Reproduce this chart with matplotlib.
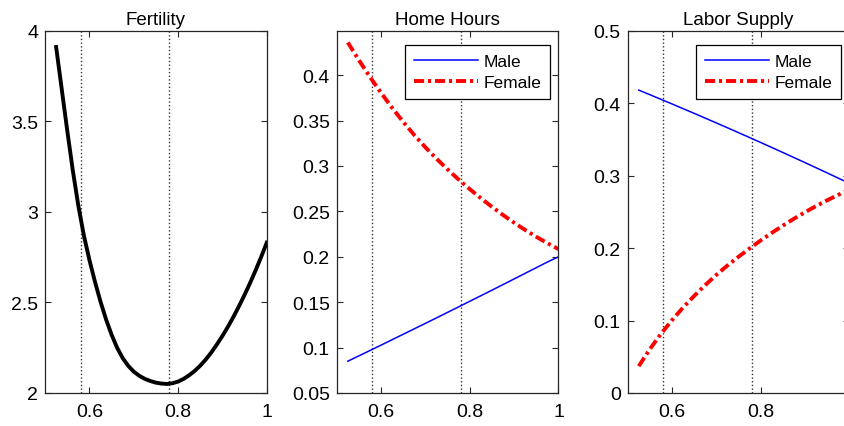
import matplotlib

matplotlib.use("Agg")
import matplotlib.pyplot as plt
from matplotlib.ticker import FuncFormatter

plt.rcParams["font.family"] = ["Liberation Sans", "DejaVu Sans"]
plt.rcParams["font.size"] = 13

# wage gap grid for the fertility panel (finer, the curve bends sharply)
fert_ratio = [
    0.525, 0.5375, 0.55, 0.5625, 0.575, 0.5875, 0.6, 0.6125, 0.625, 0.6375,
    0.65, 0.6625, 0.675, 0.6875, 0.7, 0.7125, 0.725, 0.7375, 0.75, 0.7625,
    0.775, 0.7875, 0.8, 0.8125, 0.825, 0.8375, 0.85, 0.8625, 0.875, 0.8875,
    0.9, 0.9125, 0.925, 0.9375, 0.95, 0.9625, 0.975, 0.9875, 1.0,
]
fertility = [
    3.910, 3.680, 3.450, 3.230, 3.035, 2.870, 2.735, 2.615, 2.505, 2.407,
    2.322, 2.250, 2.193, 2.150, 2.118, 2.095, 2.078, 2.066, 2.057, 2.052,
    2.050, 2.054, 2.063, 2.078, 2.098, 2.122, 2.151, 2.185, 2.224, 2.268,
    2.315, 2.366, 2.421, 2.480, 2.542, 2.608, 2.678, 2.752, 2.830,
]

# wage gap grid for the hours panels
wage_ratio = [
    0.525, 0.55, 0.575, 0.6, 0.625, 0.65, 0.675, 0.7, 0.725, 0.75,
    0.775, 0.8, 0.825, 0.85, 0.875, 0.9, 0.925, 0.95, 0.975, 1.0,
]

home_male = [
    0.0850, 0.0909, 0.0968, 0.1027, 0.1087, 0.1147, 0.1207, 0.1267, 0.1327, 0.1388,
    0.1449, 0.1510, 0.1571, 0.1632, 0.1694, 0.1756, 0.1818, 0.1880, 0.1942, 0.2000,
]
home_female = [
    0.4360, 0.4165, 0.3980, 0.3805, 0.3640, 0.3485, 0.3340, 0.3205, 0.3080, 0.2962,
    0.2850, 0.2745, 0.2645, 0.2550, 0.2460, 0.2375, 0.2295, 0.2220, 0.2150, 0.2085,
]

labor_male = [
    0.4180, 0.4117, 0.4053, 0.3989, 0.3924, 0.3859, 0.3793, 0.3727, 0.3660, 0.3593,
    0.3525, 0.3457, 0.3388, 0.3319, 0.3249, 0.3179, 0.3108, 0.3037, 0.2965, 0.2893,
]
labor_female = [
    0.0370, 0.0605, 0.0815, 0.1005, 0.1180, 0.1340, 0.1490, 0.1630, 0.1760, 0.1880,
    0.1995, 0.2105, 0.2210, 0.2310, 0.2405, 0.2495, 0.2580, 0.2660, 0.2735, 0.2805,
]

# reference wage ratios marked in every panel
markers = [0.58, 0.78]

x_ticks = [0.6, 0.8, 1.0]
fert_ticks = [2, 2.5, 3, 3.5, 4]
home_ticks = [0.05, 0.1, 0.15, 0.2, 0.25, 0.3, 0.35, 0.4]
labor_ticks = [0, 0.1, 0.2, 0.3, 0.4, 0.5]

titles = ["Fertility", "Home Hours", "Labor Supply"]
series_names = ["Male", "Female"]

SPINE = "#262626"
FEMALE_DASH = (2.6, 1.0, 0.8, 1.0)


def style_axes(ax, title, yticks, ylim, xticks=x_ticks):
    ax.set_xlim(0.5, 1.0)
    ax.set_ylim(*ylim)
    ax.set_xticks(xticks)
    ax.set_yticks(yticks)
    fmt = FuncFormatter(lambda v, _: f"{v:g}")
    ax.xaxis.set_major_formatter(fmt)
    ax.yaxis.set_major_formatter(fmt)
    ax.tick_params(direction="in", length=4, width=0.8, color=SPINE,
                   top=True, right=True, labelsize=14)
    ax.tick_params(axis="y", pad=5)
    ax.tick_params(axis="x", pad=7)
    for sp in ax.spines.values():
        sp.set_color(SPINE)
        sp.set_linewidth(0.9)
    ax.set_title(title, fontsize=13.5, pad=5)
    for m in markers:
        ax.axvline(m, color="#333333", linestyle=":", linewidth=1.0, zorder=1)


def add_legend(ax):
    leg = ax.legend(
        series_names,
        loc="upper right",
        bbox_to_anchor=(0.962, 0.961),
        borderaxespad=0,
        fancybox=False,
        framealpha=1,
        edgecolor="black",
        fontsize=12.5,
        handlelength=3.7,
        handletextpad=0.3,
        labelspacing=0.38,
        borderpad=0.5,
    )
    leg.get_frame().set_linewidth(0.9)


fig = plt.figure(figsize=(8.45, 4.27), dpi=100)

width, height, bottom = 0.2624, 0.8485, 0.0773
ax1 = fig.add_axes([0.0533, bottom, width, height])
ax2 = fig.add_axes([0.3985, bottom, width, height])
ax3 = fig.add_axes([0.7428, bottom, width, height])

ax1.plot(fert_ratio, fertility, color="black", linewidth=2.8, zorder=3)
style_axes(ax1, titles[0], fert_ticks, (2, 4))

ax2.plot(wage_ratio, home_male, color="blue", linewidth=1.1, zorder=3)
ax2.plot(wage_ratio, home_female, color="red", linewidth=2.8,
         dashes=FEMALE_DASH, zorder=3)
style_axes(ax2, titles[1], home_ticks, (0.05, 0.449))
add_legend(ax2)

# the right panel runs past the figure edge, so its last tick is left off
ax3.plot(wage_ratio, labor_male, color="blue", linewidth=1.1, zorder=3)
ax3.plot(wage_ratio, labor_female, color="red", linewidth=2.8,
         dashes=FEMALE_DASH, zorder=3)
style_axes(ax3, titles[2], labor_ticks, (0, 0.5), xticks=[0.6, 0.8])
add_legend(ax3)

fig.savefig("out.png", dpi=100)
plt.close(fig)
